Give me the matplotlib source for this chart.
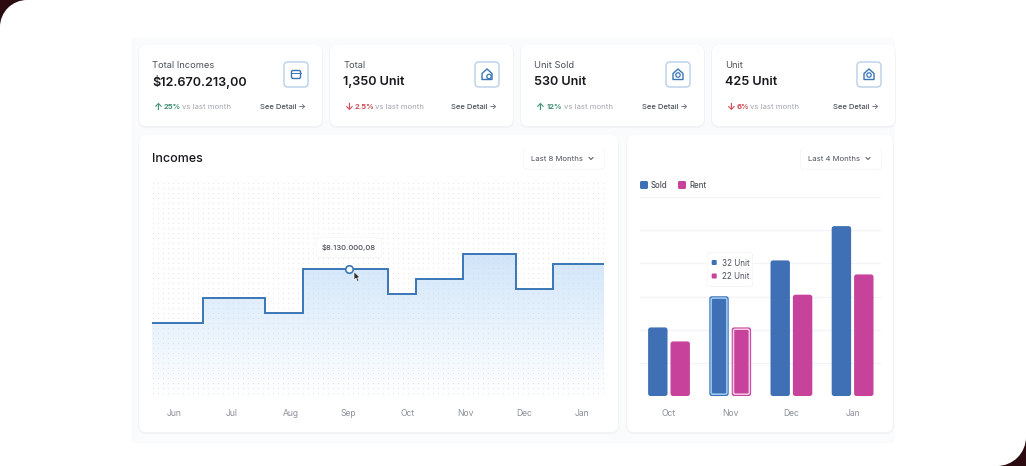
import numpy as np
import matplotlib
matplotlib.use('Agg')
import matplotlib.pyplot as plt
from matplotlib.patches import FancyBboxPatch, Rectangle, Circle, Polygon

W, H = 1026, 466

# data
months = ['Jun', 'Jul', 'Aug', 'Sep', 'Oct', 'Nov', 'Dec', 'Jan']
step_edges = [-0.37, 0.51, 1.57, 2.22, 3.67, 4.15, 4.96, 5.86, 6.5, 7.37]
incomes = [4.7, 6.29, 5.33, 8.13, 6.57, 7.49, 9.08, 6.86, 8.45]  # millions
bar_months = ['Oct', 'Nov', 'Dec', 'Jan']
sold = [22, 32, 43.5, 54.5]
rent = [17.5, 22, 32.5, 39]
card_titles = ['Total Incomes', 'Total', 'Unit Sold', 'Unit']
card_values = ['$12.670.213,00', '1,350 Unit', '530 Unit', '425 Unit']
card_changes = ['25%', '2.5%', '12%', '6%']
card_up = [True, False, True, False]

BLUE = '#3f6fb5'
PINK = '#c6429b'
LINE = '#3a76b6'
GREEN = '#3f8f72'
RED = '#cf4a55'
DARK = '#17191f'
GREY = '#8b9099'
MID = '#4c515c'

plt.rcParams['font.family'] = ['Inter', 'DejaVu Sans']

fig = plt.figure(figsize=(W / 100, H / 100), dpi=100, facecolor='white')


def px_axes(l, t, r, b, z):
    a = fig.add_axes([l / W, 1 - b / H, (r - l) / W, (b - t) / H], zorder=z)
    a.patch.set_visible(False)
    return a


def box(a, l, t, r, b, rad, fc='white', ec='none', lw=0, z=2):
    p = FancyBboxPatch((l + rad, t + rad), r - l - 2 * rad, b - t - 2 * rad,
                       boxstyle='round,pad=%f,rounding_size=%f' % (rad, rad),
                       fc=fc, ec=ec, lw=lw, zorder=z)
    a.add_patch(p)
    return p


def shadow_card(a, l, t, r, b, rad, z=2):
    box(a, l - 1, t, r + 1, b + 2, rad + 1, fc='#f1f3f7', z=z)
    box(a, l, t, r, b, rad, z=z + 0.1)


# background layer in pixel coords
bg = fig.add_axes([0, 0, 1, 1], zorder=0)
bg.set_xlim(0, W)
bg.set_ylim(H, 0)
bg.axis('off')

bg.add_patch(Rectangle((0, 0), 27, 27, fc='#2c0b10', ec='none'))
bg.add_patch(Rectangle((W - 29, H - 29), 29, 29, fc='#2c0b10', ec='none'))
bg.add_patch(Circle((27, 27), 27, fc='white', ec='none'))
bg.add_patch(Circle((W - 29, H - 29), 29, fc='white', ec='none'))

box(bg, 131, 38, 895, 443, 4, fc='#fafbfd', z=1)

card_x = [(139, 322), (330, 513), (521, 704), (712, 895)]
vs_x = [(157, 164, 182), (348.5, 355, 375), (539, 547, 564), (730, 737, 750)]
for i, (l, r) in enumerate(card_x):
    shadow_card(bg, l, 45, r, 126, 7)
    bg.text(l + 13, 65, card_titles[i], fontsize=6.7, color=MID, va='center', zorder=5)
    bg.text(l + 13, 82.3, card_values[i], fontsize=9.1, color=DARK, va='center',
            fontweight='semibold', zorder=5)
    col = GREEN if card_up[i] else RED
    ax_, cx, vx = vs_x[i]
    bg.text(ax_, 107, '↑' if card_up[i] else '↓', fontsize=7, color=col, va='center',
            ha='center', fontweight='bold', zorder=5)
    bg.text(cx, 107, card_changes[i], fontsize=5.4, color=col, va='center',
            fontweight='bold', zorder=5)
    bg.text(vx, 107, 'vs last month', fontsize=5.6, color='#a0a5ad', va='center', zorder=5)
    bg.text(r - 16, 107, 'See Detail →', fontsize=5.5, color=MID, va='center', ha='right',
            fontweight='medium', zorder=5)
    # icon
    ix = r - 38
    box(bg, ix, 62, ix + 24, 87, 4, fc='white', ec='#b8cfe8', lw=1.0, z=5)
    cx0, cy0 = ix + 12, 74.5
    if i == 0:
        box(bg, cx0 - 4.5, cy0 - 4, cx0 + 4.5, cy0 + 4, 1.5, fc='none', ec=LINE, lw=1.0, z=6)
        bg.plot([cx0 - 4.5, cx0 + 4.5], [cy0 - 1.5, cy0 - 1.5], color=LINE, lw=0.7, zorder=6)
    else:
        house = [(cx0 - 5, cy0 + 5), (cx0 - 5, cy0 - 1), (cx0, cy0 - 5.5), (cx0 + 5, cy0 - 1),
                 (cx0 + 5, cy0 + 5)]
        bg.add_patch(Polygon(house, closed=True, fc='none', ec=LINE, lw=1.0, joinstyle='round', zorder=6))
        bg.add_patch(Circle((cx0 + (2 if i == 1 else 0), cy0 + (2 if i == 1 else 0.5)), 2.2,
                            fc='white', ec=LINE, lw=0.9, zorder=7))

shadow_card(bg, 139, 135, 618, 432, 7)
shadow_card(bg, 627, 135, 893, 432, 7)
bg.text(152, 159.3, 'Incomes', fontsize=9.0, color=DARK, va='center', fontweight='medium', zorder=5)


def dropdown(a, l, label):
    box(a, l, 148, l + 82, 169.5, 4, fc='#f0f2f6', z=5)
    box(a, l + 0.5, 148, l + 81.5, 168.8, 4, fc='white', z=5.1)
    a.text(l + 8, 158.7, label, fontsize=5.6, color=MID, va='center', zorder=6)
    a.plot([l + 66, l + 68, l + 70], [157.5, 159.5, 157.5], color=MID, lw=0.7, zorder=6)


dropdown(bg, 523, 'Last 8 Months')
dropdown(bg, 800, 'Last 4 Months')

# legend of the bars
bg.add_patch(FancyBboxPatch((641, 182), 6, 6, boxstyle='round,pad=1,rounding_size=1.5', fc=BLUE, ec='none', zorder=5))
bg.text(651, 185.2, 'Sold', fontsize=5.7, color=MID, va='center', fontweight='medium', zorder=5)
bg.add_patch(FancyBboxPatch((679, 182), 6, 6, boxstyle='round,pad=1,rounding_size=1.5', fc=PINK, ec='none', zorder=5))
bg.text(689, 185.2, 'Rent', fontsize=5.7, color=MID, va='center', fontweight='medium', zorder=5)

# dotted texture behind the step chart
gx, gy = np.meshgrid(np.arange(153, 604, 5.0), np.arange(183, 397, 5.0))
bg.scatter(gx.ravel(), gy.ravel(), s=0.4, color='#dfe3e9', linewidths=0, zorder=5)

# incomes step chart
ax1 = px_axes(152, 182, 604, 397, 3)
ax1.set_ylim(0, 13.66)
shape = ax1.stairs(incomes, step_edges, fill=True, baseline=0, facecolor='none', edgecolor='none')
grad = np.zeros((256, 2, 4))
grad[..., 0] = 0.75
grad[..., 1] = 0.86
grad[..., 2] = 0.97
grad[..., 3] = np.linspace(0.72, 0.0, 256)[:, None]
im = ax1.imshow(grad, extent=(-0.37, 7.37, 0, 9.08), origin='upper', aspect='auto', zorder=1)
im.set_clip_path(shape)
ax1.stairs(incomes, step_edges, baseline=None, color=LINE, lw=1.4, zorder=3)
ax1.set_xlim(-0.37, 7.37)
ax1.set_ylim(0, 13.66)
ax1.plot([3.0], [incomes[3]], 'o', ms=5.4, mfc='white', mec=LINE, mew=1.2, zorder=4, clip_on=False)
ax1.set_xticks(range(len(months)), months)
ax1.set_yticks([])
ax1.tick_params(axis='x', length=0, pad=8.5, labelsize=6.2, labelcolor=GREY)
for s in ax1.spines.values():
    s.set_visible(False)

# bars
ax2 = px_axes(640, 197, 881, 396, 3)
px_per_unit = 3.12
ax2.set_ylim(0, 199 / px_per_unit)
ax2.set_xlim(-0.474, 3.464)
ax2.set_yticks(np.arange(0, 64, 10.64))
ax2.set_yticklabels([])
ax2.grid(axis='y', color='#f2f4f7', lw=0.9)
ax2.set_axisbelow(True)
ax2.set_xticks(range(len(bar_months)), bar_months)
ax2.tick_params(length=0)
ax2.tick_params(axis='x', pad=9, labelsize=6.2, labelcolor=GREY)
for s in ax2.spines.values():
    s.set_visible(False)

bw = 0.317
off = 0.183
aspect = (241 / 3.938) / px_per_unit
r = 2.5 / (241 / 3.938)


def rbar(x, h, c):
    p = FancyBboxPatch((x - bw / 2, 0), bw, h, boxstyle='round,pad=0,rounding_size=%f' % r,
                       mutation_aspect=aspect, fc=c, ec='none', zorder=3)
    ax2.add_patch(p)


def ring(x, h, c):
    d = 1.8 / (241 / 3.938)
    dy = 1.8 / px_per_unit
    p = FancyBboxPatch((x - bw / 2 + d, dy), bw - 2 * d, h - 2 * dy,
                       boxstyle='round,pad=0,rounding_size=%f' % (r * 0.7),
                       mutation_aspect=aspect, fc='none', ec=c, lw=1.1, zorder=4)
    ax2.add_patch(p)


for i in range(len(bar_months)):
    rbar(i - off, sold[i], BLUE)
    rbar(i + off, rent[i], PINK)
ring(1 - off, sold[1], '#9fd0f7')
ring(1 + off, rent[1], '#f5cbe7')

# tooltips and cursor on top
top = fig.add_axes([0, 0, 1, 1], zorder=6)
top.set_xlim(0, W)
top.set_ylim(H, 0)
top.axis('off')

box(top, 316, 237, 382, 258, 4, fc='#f0f2f6', z=2)
box(top, 316.5, 237.5, 381.5, 257.3, 4, fc='white', z=3)
top.text(349, 247.7, '$8.130.000,08', fontsize=5.6, color=MID, ha='center', va='center',
         fontweight='medium', zorder=4)

cur = [(354, 271.5), (354, 280), (356, 278.2), (357.6, 282), (359, 281.2), (357.6, 277.8), (360, 277.5)]
top.add_patch(Polygon(cur, closed=True, fc='#2b2f36', ec='white', lw=0.5, zorder=5))

box(top, 707, 252, 753, 287, 4, fc='#eef0f4', z=2)
box(top, 707.5, 252.5, 752.5, 286.3, 4, fc='white', z=3)
box(top, 711.7, 260, 716.7, 265, 1, fc=BLUE, z=4)
box(top, 711.7, 273.5, 716.7, 278.5, 1, fc=PINK, z=4)
top.text(722, 263, '%d Unit' % sold[1], fontsize=5.8, color=MID, va='center', zorder=4)
top.text(722, 276.5, '%d Unit' % rent[1], fontsize=5.8, color=MID, va='center', zorder=4)

fig.savefig('out.png', dpi=100)
